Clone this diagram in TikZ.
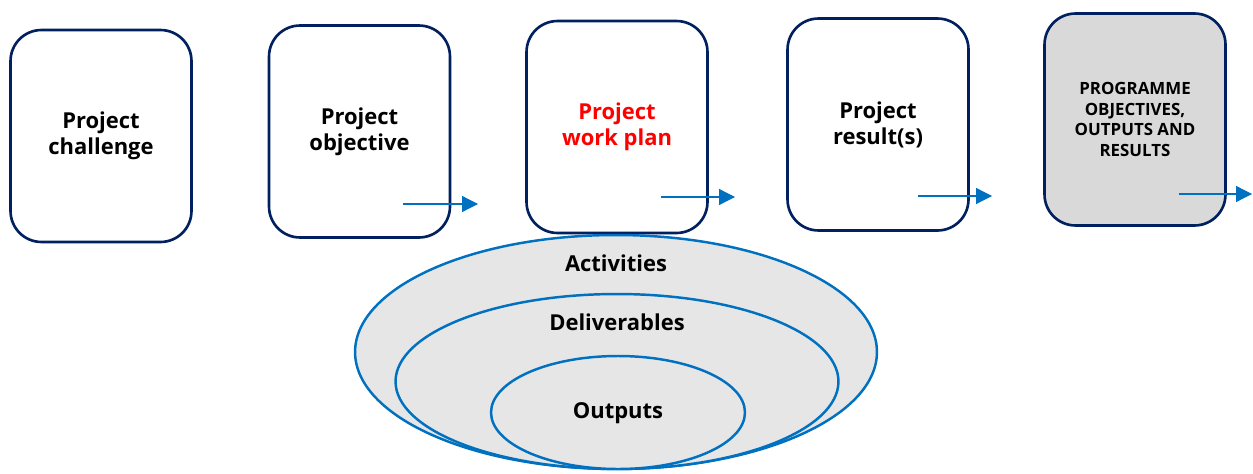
\documentclass[tikz,border=0pt]{standalone}
\usepackage{fontspec}
\setmainfont{Open Sans}
\usetikzlibrary{shapes.geometric,arrows.meta}

\begin{document}
\begin{tikzpicture}[x=0.02cm, y=-0.02cm,
    stage/.style={rectangle, rounded corners=0.62cm, draw=navycolor, line width=1.5pt, fill=white, minimum width=3.62cm, minimum height=4.24cm, align=center, font=\bfseries\fontsize{12.5}{14.7}\selectfont},
    ring/.style={ellipse, draw=flowcolor, line width=1.4pt, fill=ringcolor, inner sep=0pt},
    ringlabel/.style={font=\bfseries\fontsize{12.5}{14.7}\selectfont},
    flow/.style={-{Triangle[length=9pt, width=9pt]}, draw=flowcolor, line width=0.7pt}]
    % Define colors
    \definecolor{navycolor}{RGB}{0, 32, 96}
    \definecolor{flowcolor}{RGB}{0, 112, 192}
    \definecolor{ringcolor}{RGB}{230, 230, 230}
    \definecolor{progcolor}{RGB}{217, 217, 217}
    \definecolor{plancolor}{RGB}{255, 0, 0}

    % Page size
    \useasboundingbox (0,0) rectangle (1253,473);

    % Stages of the project
    \node[stage] (challenge) at (101, 136) {Project\\challenge};
    \node[stage] (objective) at (359.5, 131.5) {Project\\objective};
    \node[stage, text=plancolor] (workplan) at (617, 127) {Project\\work plan};
    \node[stage] (results) at (878, 124.5) {Project\\result(s)};
    \node[stage, fill=progcolor, font=\bfseries\fontsize{9.6}{11.8}\selectfont] (programme) at (1135, 119.5) {PROGRAMME\\OBJECTIVES,\\OUTPUTS AND\\RESULTS};

    % Nested rings under the work plan
    \node[ring, minimum width=10.44cm, minimum height=4.68cm] (activities) at (616, 352) {};
    \node[ring, minimum width=8.86cm, minimum height=3.5cm] (deliverables) at (617, 381.5) {};
    \node[ring, minimum width=5.08cm, minimum height=2.26cm] (outputs) at (618, 412.5) {};
    \node[ringlabel] (activitieslbl) at (616, 263) {Activities};
    \node[ringlabel] (deliverableslbl) at (617, 322) {Deliverables};
    \node[ringlabel] (outputslbl) at (618, 413) {Outputs};

    % Flow arrows
    \coordinate (objstart) at (403, 204);
    \coordinate (objend) at (478, 204);
    \coordinate (planstart) at (661, 197);
    \coordinate (planend) at (735, 197);
    \coordinate (resstart) at (918, 196);
    \coordinate (resend) at (992, 196);
    \coordinate (progstart) at (1179, 194);
    \coordinate (progend) at (1252, 194);
    \draw[flow] (objstart) -- (objend);
    \draw[flow] (planstart) -- (planend);
    \draw[flow] (resstart) -- (resend);
    \draw[flow] (progstart) -- (progend);
\end{tikzpicture}
\end{document}
